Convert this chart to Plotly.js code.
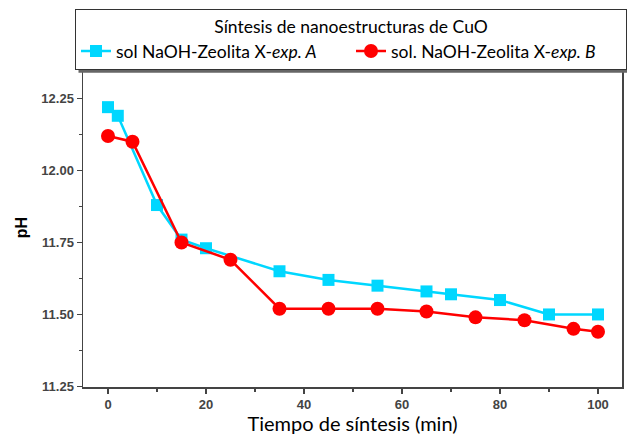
<!DOCTYPE html>
<html><head><meta charset="utf-8">
<script src="https://cdn.plot.ly/plotly-3.0.1.min.js"></script>
<style>body{margin:0;padding:0;background:#fff}#c{width:627px;height:435px}</style>
</head><body><div id="c"></div>
<script>
const timeA = [0, 2, 10, 15, 20, 35, 45, 55, 65, 70, 80, 90, 100];
const phA   = [12.22, 12.19, 11.88, 11.76, 11.73, 11.65, 11.62, 11.60, 11.58, 11.57, 11.55, 11.50, 11.50];
const timeB = [0, 5, 15, 25, 35, 45, 55, 65, 75, 85, 95, 100];
const phB   = [12.12, 12.10, 11.75, 11.69, 11.52, 11.52, 11.52, 11.51, 11.49, 11.48, 11.45, 11.44];
const nameA = 'sol NaOH-Zeolita X-<i>exp. A</i>';
const nameB = 'sol. NaOH-Zeolita X-<i>exp. B</i>';
const legendTitle = 'Síntesis de nanoestructuras de CuO';
const xTitle = 'Tiempo de síntesis (min)';
const yTitle = 'pH';

const traces = [
  {x: timeA, y: phA, name: nameA, mode: 'lines+markers', type: 'scatter',
   line: {color: '#00D7FF', width: 2.5}, marker: {symbol: 'square', size: 12, color: '#00D7FF'}},
  {x: timeB, y: phB, name: nameB, mode: 'lines+markers', type: 'scatter',
   line: {color: '#FF0000', width: 2.5}, marker: {symbol: 'circle', size: 14, color: '#FF0000'}}
];
const tickFont = {family: 'Liberation Sans, Arial, sans-serif', size: 13, color: '#444', weight: 'bold'};
const layout = {
  width: 627, height: 435,
  margin: {l: 83, r: 5, t: 68, b: 48},
  paper_bgcolor: '#fff', plot_bgcolor: '#fff',
  showlegend: true,
  xaxis: {range: [-5.1, 104.9], tickvals: [0, 20, 40, 60, 80, 100], ticks: 'outside', ticklen: 5, tickwidth: 1.5,
    tickcolor: '#444', showline: true, linecolor: '#444', linewidth: 1.5, mirror: true, showgrid: false, zeroline: false,
    tickfont: tickFont,
    minor: {tickvals: [10, 30, 50, 70, 90], ticks: 'outside', ticklen: 3, tickwidth: 1.5, tickcolor: '#444', showgrid: false},
    title: {text: xTitle, font: {family: 'Lato, sans-serif', size: 20, color: '#000'}, standoff: 0}},
  yaxis: {range: [11.248, 12.356], tickvals: [11.25, 11.5, 11.75, 12.0, 12.25], ticktext: ['11.25','11.50','11.75','12.00','12.25'],
    ticks: 'outside', ticklen: 5, tickwidth: 1.5, tickcolor: '#444', showline: true, linecolor: '#444', linewidth: 1.5,
    mirror: true, showgrid: false, zeroline: false, tickfont: tickFont,
    minor: {tickvals: [11.375, 11.625, 11.875, 12.125], ticks: 'outside', ticklen: 3, tickwidth: 1.5, tickcolor: '#444', showgrid: false},
    title: {text: yTitle, font: {family: 'Liberation Sans, Arial, sans-serif', size: 16, color: '#000', weight: 'bold'}, standoff: 10}},
  legend: {orientation: 'h', x: -0.009, xanchor: 'left', y: 1.184, yanchor: 'top',
    bgcolor: '#fff', bordercolor: '#333', borderwidth: 1, tracegroupgap: 0, entrywidth: 230, entrywidthmode: 'pixels',
    font: {family: 'Lato, sans-serif', size: 17.5, color: '#000'},
    title: {text: legendTitle, side: 'top center', font: {family: 'Lato, sans-serif', size: 17.5, color: '#000'}}}
};
Plotly.newPlot('c', traces, layout, {displayModeBar: false, staticPlot: true}).then(function (gd) {
  const bg = gd.querySelector('.legend .bg');
  if (!bg) return;
  const r = bg.getBoundingClientRect();
  const c = gd.getBoundingClientRect();
  const fl = gd._fullLayout;
  const px2x = function (p) { return (p - c.left - fl._size.l) / fl._size.w; };
  const px2y = function (p) { return 1 - (p - c.top - fl._size.t) / fl._size.h; };
  const off = 3;
  Plotly.relayout(gd, {shapes: [{type: 'rect', xref: 'paper', yref: 'paper', layer: 'above',
    x0: px2x(r.left + off), x1: px2x(r.right + off), y0: px2y(r.bottom + off), y1: px2y(r.top + off),
    fillcolor: '#666', line: {width: 0}}]});
});
</script></body></html>
